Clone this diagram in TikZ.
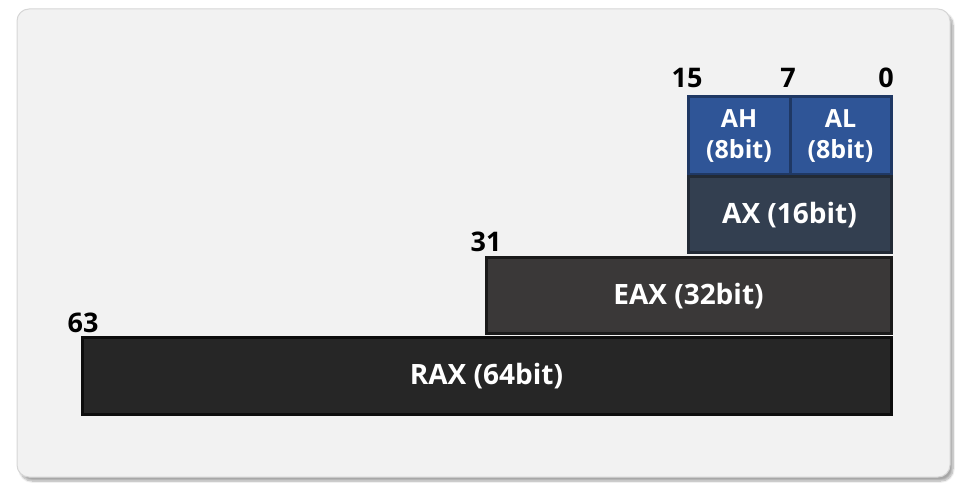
\documentclass[tikz,border=0pt]{standalone}
\usepackage{fontspec}
\setmainfont{Open Sans}
\usetikzlibrary{shadows.blur}
\definecolor{panelbg}{HTML}{F2F2F2}
\definecolor{panelline}{HTML}{D6D6D6}
\definecolor{blueFill}{HTML}{2F5597}
\definecolor{blueLine}{HTML}{1F3864}
\definecolor{slateFill}{HTML}{333F50}
\definecolor{slateLine}{HTML}{222A35}
\definecolor{eaxFill}{HTML}{3A3838}
\definecolor{eaxLine}{HTML}{1A1A1A}
\definecolor{raxFill}{HTML}{262626}
\definecolor{raxLine}{HTML}{0D0D0D}
\tikzset{
  reg/.style={draw=#1, line width=3pt, text=white, font=\bfseries\fontsize{28}{32}\selectfont, align=center, inner sep=0pt},
  smallreg/.style={reg=blueLine, fill=blueFill, font=\bfseries\fontsize{25}{31}\selectfont},
  bitnum/.style={font=\bfseries\fontsize{27}{30}\selectfont, text=black, inner sep=0pt}
}
\begin{document}
\begin{tikzpicture}[x=1pt,y=-1pt]
\useasboundingbox (0,0) rectangle (962,497);
\fill[panelbg, draw=panelline, line width=1pt, rounded corners=12pt, blur shadow={shadow xshift=3pt, shadow yshift=-4pt, shadow blur steps=8, shadow opacity=35}] (17,9) rectangle (950,477);
% registers
\node[smallreg, minimum width=102pt, minimum height=78pt] (ah) at (739,136) {AH\\(8bit)};
\node[smallreg, minimum width=101pt, minimum height=78pt] (al) at (840.5,136) {AL\\(8bit)};
\node[reg=slateLine, fill=slateFill, minimum width=203pt, minimum height=76pt] (ax) at (789.5,215) {AX (16bit)};
\node[reg=eaxLine, fill=eaxFill, minimum width=405pt, minimum height=76pt] (eax) at (688.5,296) {EAX (32bit)};
\node[reg=raxLine, fill=raxFill, minimum width=809pt, minimum height=76pt] (rax) at (486.5,376) {RAX (64bit)};
% bit numbers
\node[bitnum] (b15) at (687,78) {15};
\node[bitnum] (b7) at (788,78) {7};
\node[bitnum] (b0) at (886,78) {0};
\node[bitnum] (b31) at (486,242) {31};
\node[bitnum] (b63) at (83,323) {63};
\end{tikzpicture}
\end{document}
